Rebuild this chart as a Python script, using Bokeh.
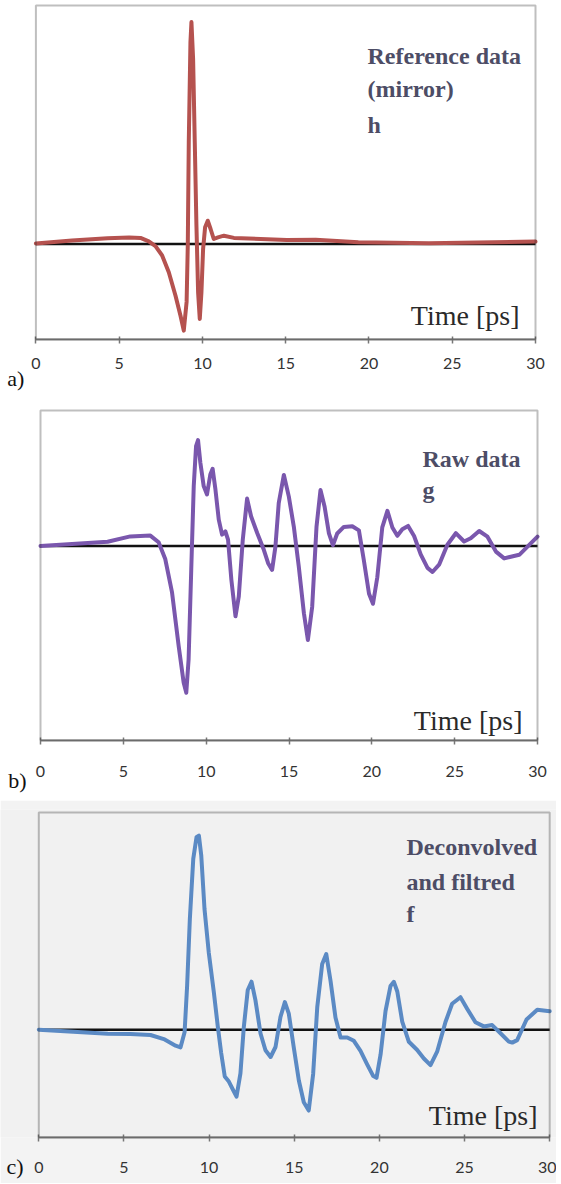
from bokeh.plotting import figure
from bokeh.models import Range1d, Label, FixedTicker, LinearAxis, BoxAnnotation
from bokeh.layouts import column
from bokeh.embed import file_html
from bokeh.resources import INLINE

# ---------------- DATA ----------------
ticks = [0, 5, 10, 15, 20, 25, 30]

# a) Reference data (mirror) h
t_a = [0.0, 2.17, 4.3, 5.6, 6.28, 6.78, 7.18, 7.58, 7.98, 8.38, 8.68, 8.88, 9.05,
       9.12, 9.18, 9.28, 9.34, 9.44, 9.54, 9.64, 9.74, 9.84, 9.94, 10.04, 10.16,
       10.32, 10.49, 10.68, 10.93, 11.29, 11.89, 15.06, 16.8, 19.36, 23.6, 30.0]
h_a = [0.005, 0.035, 0.057, 0.065, 0.06, 0.025, -0.022, -0.116, -0.283, -0.516,
       -0.716, -0.867, -0.58, -0.016, 1.018, 2.018, 2.218, 1.85, 1.017, 0.183,
       -0.484, -0.751, -0.484, -0.051, 0.166, 0.232, 0.149, 0.049, 0.065, 0.082,
       0.06, 0.04, 0.042, 0.017, 0.007, 0.023]

# b) Raw data g
t_b = [0.0, 4.05, 5.42, 6.63, 7.13, 7.53, 7.94, 8.34, 8.64, 8.8, 8.94, 9.1, 9.25,
       9.39, 9.51, 9.65, 9.85, 10.05, 10.25, 10.39, 10.56, 10.76, 10.96, 11.16,
       11.32, 11.52, 11.77, 11.97, 12.21, 12.47, 12.71, 13.08, 13.48, 13.74, 13.98,
       14.18, 14.38, 14.69, 14.99, 15.29, 15.59, 15.9, 16.14, 16.4, 16.66, 16.9,
       17.15, 17.41, 17.65, 17.91, 18.31, 18.82, 19.22, 19.52, 19.83, 20.07, 20.33,
       20.63, 20.94, 21.24, 21.54, 21.84, 22.19, 22.55, 22.95, 23.36, 23.66, 24.06,
       24.56, 25.07, 25.57, 25.97, 26.48, 26.98, 27.49, 27.99, 28.39, 28.9, 30.0]
g_b = [0.0, 0.042, 0.096, 0.104, 0.037, -0.13, -0.464, -0.999, -1.366, -1.467,
       -1.133, -0.233, 0.599, 0.999, 1.059, 0.833, 0.599, 0.515, 0.715, 0.772,
       0.564, 0.264, 0.114, 0.147, 0.064, -0.336, -0.703, -0.503, 0.064, 0.474,
       0.297, 0.13, -0.038, -0.172, -0.239, -0.006, 0.428, 0.711, 0.494, 0.194,
       -0.206, -0.673, -0.94, -0.607, 0.192, 0.559, 0.392, 0.126, 0.008, 0.125,
       0.191, 0.197, 0.156, -0.145, -0.478, -0.578, -0.313, 0.186, 0.352, 0.185,
       0.102, 0.168, 0.201, 0.1, -0.084, -0.219, -0.26, -0.187, 0.013, 0.128,
       0.045, 0.077, 0.15, 0.093, -0.056, -0.124, -0.107, -0.088, 0.094]

# c) Deconvolved and filtred f
t_c = [0.0, 4.05, 5.38, 6.56, 7.34, 8.03, 8.32, 8.56, 8.71, 8.87, 9.07, 9.26, 9.4,
       9.54, 9.73, 9.98, 10.28, 10.51, 10.71, 10.92, 11.16, 11.41, 11.61, 11.84,
       12.04, 12.27, 12.49, 12.72, 13.02, 13.31, 13.61, 13.9, 14.19, 14.45, 14.68,
       14.97, 15.27, 15.56, 15.85, 16.11, 16.35, 16.64, 16.88, 17.13, 17.42, 17.72,
       18.11, 18.5, 18.89, 19.28, 19.64, 19.83, 20.07, 20.36, 20.65, 20.85, 21.05,
       21.34, 21.73, 22.22, 22.61, 23.0, 23.39, 23.88, 24.27, 24.76, 25.16, 25.64,
       26.13, 26.62, 27.11, 27.6, 27.8, 28.09, 28.64, 29.27, 30.0]
f_c = [0.0, -0.04, -0.042, -0.053, -0.094, -0.16, -0.177, -0.026, 0.44, 1.108,
       1.708, 1.925, 1.941, 1.741, 1.207, 0.773, 0.371, 0.033, -0.233, -0.468,
       -0.519, -0.603, -0.67, -0.436, 0.03, 0.397, 0.48, 0.296, -0.038, -0.205,
       -0.273, -0.173, 0.127, 0.276, 0.16, -0.175, -0.508, -0.726, -0.809, -0.442,
       0.224, 0.656, 0.756, 0.489, 0.122, -0.078, -0.078, -0.111, -0.212, -0.346,
       -0.464, -0.481, -0.247, 0.187, 0.436, 0.479, 0.382, 0.081, -0.121, -0.203,
       -0.288, -0.354, -0.22, 0.077, 0.259, 0.325, 0.208, 0.074, 0.033, 0.046,
       -0.035, -0.119, -0.129, -0.104, 0.102, 0.2, 0.184]

# ---------------- STYLE / LAYOUT ----------------
FW = 556                 # frame width (px)
TEXT_COL = "#4d4d66"
SERIF = "Liberation Serif"


def panel(t, y, color, L, R, Z, T, F, B, border_top, border_bottom,
          note_lines, note_x, note_y, time_x, time_y,
          tag, tag_x, tag_std, std, bg="white", border="white"):
    s = (R - L) / 30.0
    xr = Range1d(-L / s, 30 + (FW - R) / s)
    yr = Range1d((Z - B) / 100.0, (Z - F) / 100.0)
    p = figure(frame_width=FW, frame_height=B - F, output_backend="svg",
               toolbar_location=None, x_range=xr, y_range=yr,
               y_axis_location=None, min_border_top=border_top,
               min_border_bottom=border_bottom, min_border_left=0,
               min_border_right=0, background_fill_color=bg,
               border_fill_color=border)
    p.xgrid.visible = False
    p.ygrid.visible = False
    p.outline_line_color = None

    ax = p.xaxis[0]
    ax.ticker = FixedTicker(ticks=ticks)
    ax.bounds = (ticks[0], ticks[-1])
    ax.axis_line_color = "#777777"
    ax.axis_line_width = 2
    ax.major_tick_line_color = "#777777"
    ax.major_tick_line_width = 1.5
    ax.major_tick_in = 3
    ax.major_tick_out = 4
    ax.minor_tick_line_color = None
    ax.major_label_standoff = std
    ax.major_label_text_font = "Lato"
    ax.major_label_text_font_size = "16px"
    ax.major_label_text_color = "#333333"

    tag_ax = LinearAxis(ticker=FixedTicker(ticks=[tag_x]),
                        major_label_overrides={tag_x: tag},
                        axis_line_color=None, major_tick_line_color=None,
                        minor_tick_line_color=None, major_tick_in=0,
                        major_tick_out=0, major_label_standoff=tag_std,
                        major_label_text_font=SERIF,
                        major_label_text_font_size="22px",
                        major_label_text_color="#111111")
    p.add_layout(tag_ax, "below")

    # plot box
    p.add_layout(BoxAnnotation(left=ticks[0], right=ticks[-1],
                               top=(Z - T) / 100.0, bottom=(Z - B) / 100.0,
                               fill_color=None, fill_alpha=0,
                               line_color="#2a2a2a", line_width=2))
    # zero baseline
    p.line([ticks[0], ticks[-1]], [0, 0], line_color="#111111", line_width=2.5)
    # signal
    p.line(t, y, line_color=color, line_width=4, line_join="round",
           line_cap="round")

    for i, txt in enumerate(note_lines):
        p.add_layout(Label(x=note_x, y=B - note_y[i], x_units="screen",
                           y_units="screen", text=txt, text_font=SERIF,
                           text_font_size="24px", text_font_style="bold",
                           text_color=TEXT_COL, text_baseline="alphabetic",
                           text_align="left"))
    p.add_layout(Label(x=time_x, y=B - time_y, x_units="screen", y_units="screen",
                       text="Time [ps]", text_font=SERIF, text_font_size="28px",
                       text_color="#2a2a2a", text_baseline="alphabetic",
                       text_align="right"))
    return p


pa = panel(t_a, h_a, "#b5524f", L=35.4, R=535, Z=243.4, T=5, F=2, B=339,
           border_top=2, border_bottom=56,
           note_lines=["Reference data", "(mirror)", "h"], note_x=367,
           note_y=[55, 88, 124], time_x=519, time_y=315,
           tag="a)", tag_x=-1.2, tag_std=-6, std=14)
pb = panel(t_b, g_b, "#7a57ad", L=40, R=537, Z=545.5 - 395, T=410 - 395,
           F=407 - 395, B=740 - 395, border_top=12, border_bottom=60,
           note_lines=["Raw data", "g"], note_x=422,
           note_y=[458.3 - 395, 489.3 - 395], time_x=522, time_y=720 - 395,
           tag="b)", tag_x=-1.4, tag_std=-12, std=21)
pc = panel(t_c, f_c, "#5b8ac4", L=38.3, R=549.2, Z=1029.2 - 800, T=812 - 800,
           F=809 - 800, B=1137 - 800, border_top=9, border_bottom=46,
           note_lines=["Deconvolved", "and filtred", "f"], note_x=406,
           note_y=[846.7 - 800, 881.7 - 800, 913 - 800], time_x=537,
           time_y=1115 - 800, tag="c)", tag_x=-1.4, tag_std=-22, std=20,
           bg="#f1f1f1", border="#f3f3f3")

layout = column(pa, pb, pc, spacing=0)
open("out.html", "w").write(file_html(layout, INLINE))
